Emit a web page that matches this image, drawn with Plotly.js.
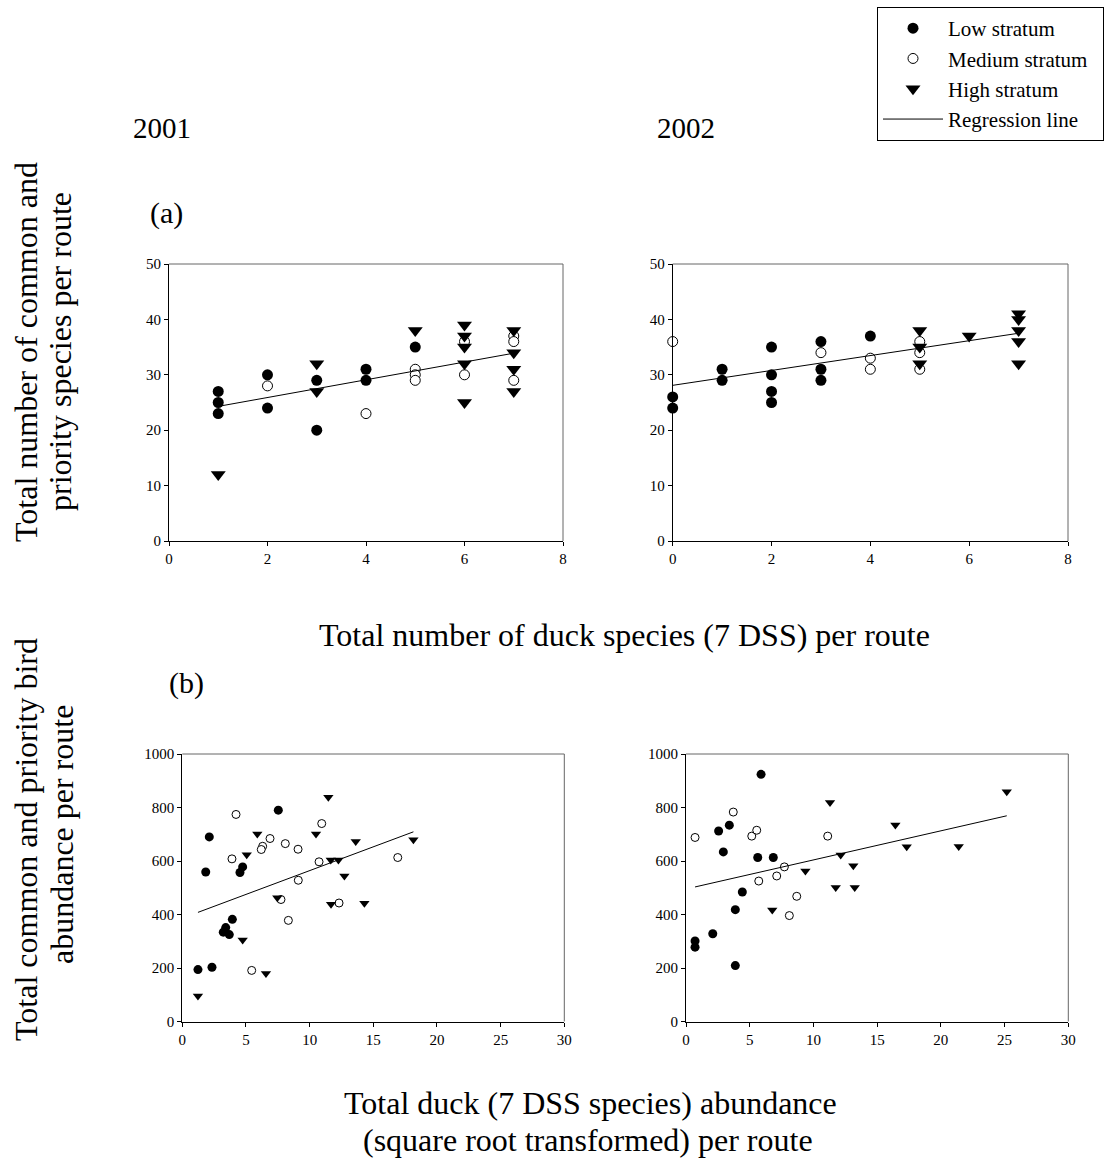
<!DOCTYPE html>
<html>
<head>
<meta charset="utf-8">
<script src="https://cdn.plot.ly/plotly-3.0.1.min.js"></script>
<style>html,body{margin:0;padding:0;background:#fff;}#chart{width:1113px;height:1169px;}</style>
</head>
<body>
<div id="chart"></div>
<script>
// ---------- Data: panel (a) 2001 ----------
const a01LowX = [1, 1, 1, 2, 2, 3, 3, 4, 4, 5];
const a01LowY = [27, 25, 23, 30, 24, 29, 20, 31, 29, 35];
const a01MedX = [2, 4, 5, 5, 5, 6, 6, 7, 7, 7];
const a01MedY = [28, 23, 31, 30, 29, 36, 30, 37, 36, 29];
const a01HighX = [1, 3, 3, 5, 6, 6, 6, 6, 6, 7, 7, 7, 7];
const a01HighY = [12, 32, 27, 38, 39, 37, 35, 32, 25, 38, 34, 31, 27];
const a01RegX = [1, 7];
const a01RegY = [24.3, 33.9];

// ---------- Data: panel (a) 2002 ----------
const a02LowX = [0, 0, 1, 1, 2, 2, 2, 2, 3, 3, 3, 4];
const a02LowY = [26, 24, 31, 29, 35, 30, 27, 25, 36, 31, 29, 37];
const a02MedX = [0, 3, 4, 4, 5, 5, 5];
const a02MedY = [36, 34, 33, 31, 36, 34, 31];
const a02HighX = [5, 5, 5, 6, 7, 7, 7, 7, 7];
const a02HighY = [38, 35, 32, 37, 41, 40, 38, 36, 32];
const a02RegX = [0, 7];
const a02RegY = [28.1, 37.5];

// ---------- Data: panel (b) 2001 ----------
const b01LowX = [2.12, 1.84, 4.74, 4.53, 3.93, 3.41, 3.22, 3.69, 1.23, 2.33, 7.54];
const b01LowY = [690, 559, 578, 557, 382, 351, 334, 325, 194, 203, 790];
const b01MedX = [3.9, 5.45, 6.31, 6.2, 6.89, 8.09, 9.09, 9.11, 8.33, 7.75, 10.74, 10.95, 12.31, 16.92, 4.22];
const b01MedY = [608, 191, 655, 643, 684, 665, 644, 528, 378, 456, 597, 740, 443, 613, 774];
const b01HighX = [1.23, 4.74, 6.57, 5.06, 5.89, 7.46, 10.5, 11.66, 12.26, 12.73, 13.62, 11.68, 14.3, 18.15, 11.47];
const b01HighY = [95, 305, 179, 623, 701, 463, 701, 604, 604, 544, 673, 438, 442, 679, 838];
const b01RegX = [1.23, 18.15];
const b01RegY = [408, 709];

// ---------- Data: panel (b) 2002 ----------
const b02LowX = [2.56, 3.4, 2.93, 5.63, 6.85, 4.42, 3.87, 2.1, 0.71, 0.71, 3.87, 5.89];
const b02LowY = [712, 734, 634, 613, 613, 484, 418, 328, 301, 278, 209, 924];
const b02MedX = [0.71, 5.16, 5.55, 3.71, 5.71, 7.12, 7.72, 8.69, 8.11, 11.12];
const b02MedY = [688, 693, 715, 783, 525, 544, 578, 468, 396, 693];
const b02HighX = [6.77, 9.37, 12.14, 13.13, 11.75, 13.24, 16.43, 17.32, 21.4, 11.3, 25.17];
const b02HighY = [417, 563, 622, 582, 501, 501, 735, 653, 654, 819, 859];
const b02RegX = [0.71, 25.17];
const b02RegY = [503, 769];

// ---------- Labels ----------
const seriesNames = ['Low stratum', 'Medium stratum\u00a0\u00a0', 'High stratum', 'Regression line'];
const yearLabels = ['2001', '2002'];
const panelLabels = ['(a)', '(b)'];
const xTitleA = 'Total number of duck species (7 DSS) per route';
const xTitleB = ['Total duck (7 DSS species) abundance', '(square root transformed) per route'];
const yTitleA = ['Total number of common and', 'priority species per route'];
const yTitleB = ['Total common and priority bird', 'abundance per route'];

const FONT = 'Liberation Serif, Times New Roman, serif';

function panelTraces(lx, ly, mx, my, hx, hy, rx, ry, xa, ya, circ, tri, legend) {
  return [
    {x: lx, y: ly, xaxis: xa, yaxis: ya, type: 'scatter', mode: 'markers', name: seriesNames[0],
     showlegend: legend, cliponaxis: false,
     marker: {symbol: 'circle', size: circ, color: '#000', line: {color: '#000', width: 0}}},
    {x: mx, y: my, xaxis: xa, yaxis: ya, type: 'scatter', mode: 'markers', name: seriesNames[1],
     showlegend: legend, cliponaxis: false,
     marker: {symbol: 'circle', size: circ - 1, color: '#fff', line: {color: '#000', width: 1}}},
    {x: hx, y: hy, xaxis: xa, yaxis: ya, type: 'scatter', mode: 'markers', name: seriesNames[2],
     showlegend: legend, cliponaxis: false,
     marker: {symbol: 'triangle-down', size: tri, color: '#000', line: {color: '#000', width: 0}}},
    {x: rx, y: ry, xaxis: xa, yaxis: ya, type: 'scatter', mode: 'lines', name: seriesNames[3],
     showlegend: legend, line: {color: '#000', width: 1}}
  ];
}

const data = [].concat(
  panelTraces(a01LowX, a01LowY, a01MedX, a01MedY, a01HighX, a01HighY, a01RegX, a01RegY, 'x', 'y', 11, 13, true),
  panelTraces(a02LowX, a02LowY, a02MedX, a02MedY, a02HighX, a02HighY, a02RegX, a02RegY, 'x2', 'y2', 11, 13, false),
  panelTraces(b01LowX, b01LowY, b01MedX, b01MedY, b01HighX, b01HighY, b01RegX, b01RegY, 'x3', 'y3', 9, 9, false),
  panelTraces(b02LowX, b02LowY, b02MedX, b02MedY, b02HighX, b02HighY, b02RegX, b02RegY, 'x4', 'y4', 9, 9, false)
);

function ax(domain, range, dtick, anchor) {
  return {domain: domain, range: range, dtick: dtick, tick0: 0, anchor: anchor,
    showline: true, linecolor: '#000', linewidth: 1, mirror: false,
    ticks: 'outside', ticklen: 4, tickcolor: '#000', tickwidth: 1,
    showgrid: false, zeroline: false, fixedrange: true,
    tickfont: {family: FONT, size: 15, color: '#000'}};
}

const W = 1113, H = 1169;
const dAy = [1 - 541 / H, 1 - 264 / H];
const dBy = [1 - 1021.5 / H, 1 - 754 / H];

const layout = {
  width: W, height: H,
  margin: {l: 0, r: 0, t: 0, b: 0},
  paper_bgcolor: '#fff', plot_bgcolor: '#fff',
  showlegend: true,
  legend: {x: 877 / W, y: 1 - 7 / H, xanchor: 'left', yanchor: 'top',
    bordercolor: '#000', borderwidth: 1, bgcolor: '#fff',
    font: {family: FONT, size: 21, color: '#000'}, itemwidth: 60, tracegroupgap: 0},
  xaxis: ax([169 / W, 563 / W], [0, 8], 2, 'y'),
  yaxis: ax(dAy, [0, 50], 10, 'x'),
  xaxis2: ax([672.7 / W, 1068 / W], [0, 8], 2, 'y2'),
  yaxis2: ax(dAy, [0, 50], 10, 'x2'),
  xaxis3: ax([182.3 / W, 564.3 / W], [0, 30], 5, 'y3'),
  yaxis3: ax(dBy, [0, 1000], 200, 'x3'),
  xaxis4: ax([686 / W, 1068.3 / W], [0, 30], 5, 'y4'),
  yaxis4: ax(dBy, [0, 1000], 200, 'x4'),
  shapes: [],
  annotations: []
};

['', '2', '3', '4'].forEach(function (s) {
  layout.shapes.push({type: 'line', xref: 'x' + s + ' domain', yref: 'y' + s + ' domain',
    x0: 0, x1: 1, y0: 1, y1: 1, line: {color: '#666', width: 1}});
  layout.shapes.push({type: 'line', xref: 'x' + s + ' domain', yref: 'y' + s + ' domain',
    x0: 1, x1: 1, y0: 0, y1: 1, line: {color: '#666', width: 1}});
});

function txt(text, px, py, size, angle) {
  return {text: text, xref: 'paper', yref: 'paper', x: px / W, y: 1 - py / H,
    xanchor: 'center', yanchor: 'middle', showarrow: false, textangle: angle || 0,
    font: {family: FONT, size: size, color: '#000'}};
}

layout.annotations.push(txt(yearLabels[0], 162, 128, 29));
layout.annotations.push(txt(yearLabels[1], 686, 128, 29));
layout.annotations.push(txt(panelLabels[0], 166, 213, 30));
layout.annotations.push(txt(panelLabels[1], 187, 683, 30));
layout.annotations.push(txt(xTitleA, 624, 635, 32));
layout.annotations.push(txt(xTitleB[0], 590, 1103, 32));
layout.annotations.push(txt(xTitleB[1], 588, 1140, 32));
layout.annotations.push(txt(yTitleA[0], 26, 352, 32, -90));
layout.annotations.push(txt(yTitleA[1], 60, 352, 32, -90));
layout.annotations.push(txt(yTitleB[0], 26, 840, 32, -90));
layout.annotations.push(txt(yTitleB[1], 62, 835, 32, -90));

Plotly.newPlot('chart', data, layout, {staticPlot: true, displayModeBar: false});
</script>
</body>
</html>
